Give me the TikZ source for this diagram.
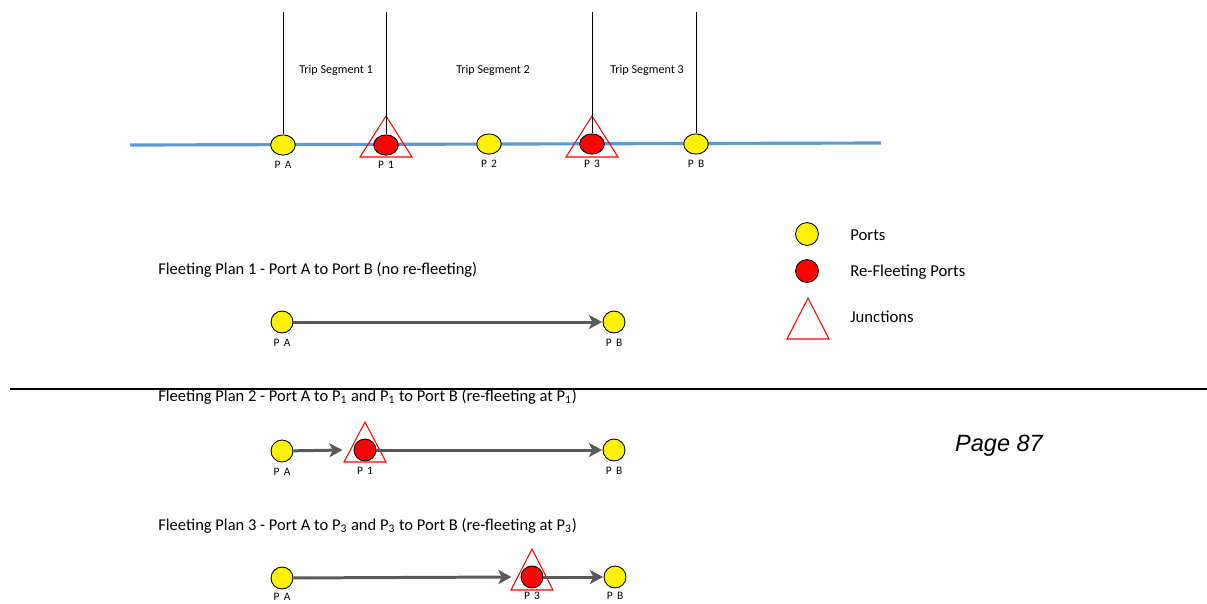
\documentclass[tikz,border=0pt]{standalone}
\usepackage{fontspec}
\setmainfont{Carlito}
\newfontfamily\pagefont{Liberation Sans}
\newfontfamily\portfont[LetterSpace=15]{Carlito}
\usetikzlibrary{arrows.meta,shapes.geometric}
\definecolor{routeblue}{RGB}{91,155,213}
\definecolor{flowgray}{RGB}{89,89,89}

\begin{document}
\begin{tikzpicture}[x=0.02cm,y=-0.02cm]
        \tikzset{
            port/.style={circle,minimum size=12.5pt,inner sep=0pt,fill=yellow,draw=black,line width=0.5pt},
            rport/.style={port,fill=red},
            eport/.style={port,ellipse,minimum width=14pt,minimum height=11.5pt},
            erport/.style={eport,fill=red},
            lab/.style={font=\portfont\fontsize{6.5}{7}\selectfont,inner sep=0pt,yshift=-3pt},
            lowlab/.style={lab,yshift=1.2pt},
            junc/.style={draw=red,line width=0.6pt},
            route/.style={routeblue,line width=1.8pt},
            seg/.style={black,line width=0.5pt},
            flow/.style={flowgray,line width=1.7pt,-{Stealth[length=7.5pt,width=8pt,inset=2pt]},shorten >=0.3pt},
            segtxt/.style={font=\fontsize{6.9}{8}\selectfont},
            plantxt/.style={font=\fontsize{9.4}{11}\selectfont,anchor=west,inner sep=0pt},
            legtxt/.style={font=\fontsize{9.5}{11}\selectfont,anchor=west,inner sep=0pt}
            }

            \useasboundingbox (0,0) rectangle (1207,603);

            % route with trip segments
            \coordinate (rw) at (130,145);
            \coordinate (re) at (881,143);
            \draw[route] (rw) -- (re);

            \node[eport,label={[lab]below:P A}] (pa) at (283,145) {};
            \node[erport,label={[lab]below:P 1}] (p1) at (386,145) {};
            \node[eport,label={[lab]below:P 2}] (p2) at (489,144) {};
            \node[erport,label={[lab]below:P 3}] (p3) at (592,144) {};
            \node[eport,label={[lab]below:P B}] (pb) at (696,144) {};

            \draw[junc] (p1) +(0,-29) -- +(26,12) -- +(-26,12) -- cycle;
            \draw[junc] (p3) +(0,-28) -- +(26,13) -- +(-26,13) -- cycle;

            \coordinate (ta) at (283,12);
            \coordinate (t1) at (386,12);
            \coordinate (t3) at (592,12);
            \coordinate (tb) at (696,12);
            \draw[seg] (ta) -- (pa);
            \draw[seg] (t1) -- (p1);
            \draw[seg] (t3) -- (p3);
            \draw[seg] (tb) -- (pb);

            \node[segtxt] (s1) at (336,70) {Trip Segment 1};
            \node[segtxt] (s2) at (493,70) {Trip Segment 2};
            \node[segtxt] (s3) at (647,70) {Trip Segment 3};

            % legend
            \node[port,minimum size=13pt] (lp) at (807,234) {};
            \node[rport,minimum size=13pt] (lr) at (807,271) {};
            \coordinate (lj) at (808,327);
            \draw[junc] (lj) +(0,-29) -- +(21,12) -- +(-21,12) -- cycle;
            \node[legtxt] (lpt) at (850,235) {Ports};
            \node[legtxt] (lrt) at (850,272) {Re-Fleeting Ports};
            \node[legtxt] (ljt) at (850,317) {Junctions};

            % plan 1
            \node[plantxt] (f1) at (158,270) {Fleeting Plan 1 - Port A to Port B (no re-fleeting)};
            \node[port,label={[lab]below:P A}] (pa1) at (282,322) {};
            \node[port,label={[lab]below:P B}] (pb1) at (614,322) {};
            \draw[flow] (pa1) -- (pb1);

            \coordinate (hl) at (10,389);
            \coordinate (hr) at (1207,389);
            \draw[black,line width=0.7pt] (hl) -- (hr);

            % plan 2
            \node[plantxt] (f2) at (158,397) {Fleeting Plan 2 - Port A to P\textsubscript{1} and P\textsubscript{1} to Port B (re-fleeting at P\textsubscript{1})};
            \node[port,label={[lab]below:P A}] (pa2) at (282,451) {};
            \node[rport,label={[lab]below:P 1}] (r1) at (365,450) {};
            \node[port,label={[lab]below:P B}] (pb2) at (614,450) {};
            \draw[junc] (r1) +(0,-28) -- +(21,12) -- +(-21,12) -- cycle;
            \path (r1) ++(-22,0) coordinate (j1);
            \draw[flow] (pa2) -- (j1);
            \draw[flow] (r1) -- (pb2);

            % plan 3
            \node[plantxt] (f3) at (158,526) {Fleeting Plan 3 - Port A to P\textsubscript{3} and P\textsubscript{3} to Port B (re-fleeting at P\textsubscript{3})};
            \node[port,label={[lowlab]below:P A}] (pa3) at (282,578) {};
            \node[rport,label={[lowlab]below:P 3}] (r3) at (532,577) {};
            \node[port,label={[lowlab]below:P B}] (pb3) at (615,577) {};
            \draw[junc] (r3) +(0,-28) -- +(21,13) -- +(-21,13) -- cycle;
            \path (r3) ++(-20,0) coordinate (j3);
            \draw[flow] (pa3) -- (j3);
            \draw[flow] (r3) -- (pb3);

            \node[font=\pagefont\itshape\fontsize{13.4}{16}\selectfont] (pg) at (999,446) {Page 87};
        \end{tikzpicture}
\end{document}
